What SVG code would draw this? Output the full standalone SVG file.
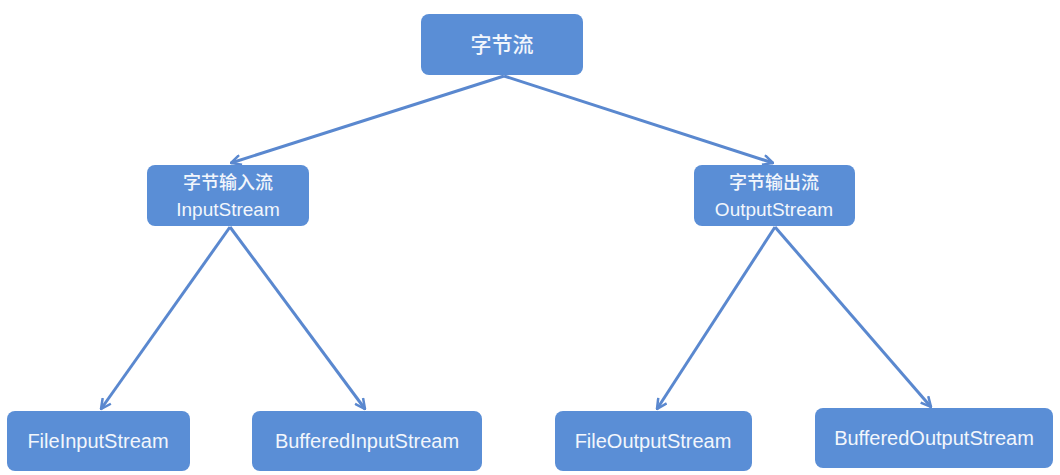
<svg xmlns="http://www.w3.org/2000/svg" width="1060" height="475" viewBox="0 0 1060 475">
<style>
.node{fill:#5A8ED6;}
.t{fill:#F2F6FC;font-family:"Liberation Sans","Noto Sans CJK SC",sans-serif;font-size:20px;text-anchor:middle;}
.cn{font-family:"Noto Sans CJK SC",sans-serif;font-size:18px;font-weight:500;}
.big{font-size:21px;}
.edge{stroke:#5A88CF;stroke-width:3;fill:none;marker-end:url(#arr);}
</style>
<defs>
<marker id="arr" viewBox="0 0 12 12" refX="11" refY="6" markerWidth="12" markerHeight="12" markerUnits="userSpaceOnUse" orient="auto">
<path d="M1,1 L11,6 L1,11" fill="none" stroke="#5A88CF" stroke-width="2.5"/>
</marker>
</defs>
<rect width="1060" height="475" fill="#FFFFFF"/>
<g id="connectors">
<line class="edge" x1="504" y1="76" x2="231" y2="163"/>
<line class="edge" x1="504" y1="76" x2="773" y2="163"/>
<line class="edge" x1="230" y1="227" x2="101" y2="409"/>
<line class="edge" x1="230" y1="227" x2="365" y2="409"/>
<line class="edge" x1="775" y1="227" x2="657" y2="409"/>
<line class="edge" x1="775" y1="227" x2="931" y2="407"/>
</g>
<g id="root">
<rect class="node" x="421" y="14" width="162" height="61" rx="8"/>
<text class="t cn big" x="502" y="52">字节流</text>
</g>
<g id="inputstream">
<rect class="node" x="147" y="165" width="162" height="61" rx="8"/>
<text class="t cn" x="228" y="189">字节输入流</text>
<text class="t" x="228" y="216" style="font-size:19px">InputStream</text>
</g>
<g id="outputstream">
<rect class="node" x="694" y="165" width="161" height="61" rx="8"/>
<text class="t cn" x="774" y="189">字节输出流</text>
<text class="t" x="774" y="216" style="font-size:19px">OutputStream</text>
</g>
<g id="fileinputstream">
<rect class="node" x="7" y="411" width="183" height="60" rx="8"/>
<text class="t" x="98" y="448">FileInputStream</text>
</g>
<g id="bufferedinputstream">
<rect class="node" x="252" y="411" width="230" height="60" rx="8"/>
<text class="t" x="367" y="448">BufferedInputStream</text>
</g>
<g id="fileoutputstream">
<rect class="node" x="555" y="411" width="197" height="60" rx="8"/>
<text class="t" x="653" y="448">FileOutputStream</text>
</g>
<g id="bufferedoutputstream">
<rect class="node" x="815" y="408" width="238" height="60" rx="8"/>
<text class="t" x="934" y="445">BufferedOutputStream</text>
</g>
</svg>
